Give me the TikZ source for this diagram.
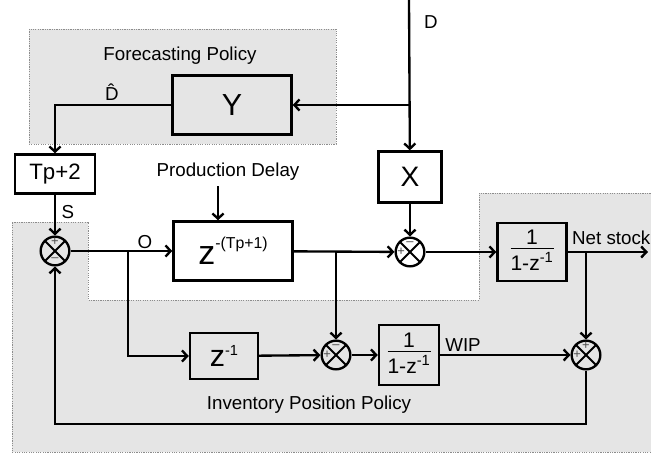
\documentclass[tikz,border=0pt]{standalone}
\usepackage{fontspec}
\setmainfont{Liberation Sans}
\usetikzlibrary{arrows.meta,positioning}

\newcommand{\accfrac}{\begin{tabular}{@{}c@{}}{\fontsize{18}{18}\selectfont 1}\\[0pt]\hline\rule{0pt}{18pt}{\fontsize{18}{18}\selectfont 1-z\textsuperscript{-1}}\end{tabular}}

\begin{document}
\begin{tikzpicture}[x=0.03cm, y=-0.03cm, line width=2pt, >={Straight Barb[length=4.5pt,width=9.5pt]}]
\tikzset{
    block/.style={rectangle, draw=black, line width=2pt, inner sep=0pt, text centered},
    sumnode/.style={circle, draw=black, line width=2pt, minimum size=0.86cm, inner sep=0pt,
        path picture={\draw[line width=1.6pt] (path picture bounding box.north west) -- (path picture bounding box.south east)
            (path picture bounding box.north east) -- (path picture bounding box.south west);}},
    sign/.style={font=\fontsize{11}{11}\selectfont, text=black!70, inner sep=0pt},
    region/.style={fill=black!10, draw=black!45, line width=0.8pt, dash pattern=on 1pt off 1pt},
    lab/.style={font=\fontsize{16}{18}\selectfont, inner sep=0pt},
    flow/.style={->, line width=2pt}
}
\useasboundingbox (0,0) rectangle (651,454);

% shaded policy areas
\path[region] (29,29) rectangle (336,144);
\path[region] (12,222) -- (88,222) -- (88,300) -- (479,300) -- (479,193) -- (660,193) -- (660,452) -- (12,452) -- cycle;

% blocks
\node[block, minimum width=3.57cm, minimum height=1.77cm, font=\fontsize{26}{28}\selectfont] (forecast) at (232,105) {Y};
\node[block, minimum width=1.89cm, minimum height=1.53cm, font=\fontsize{24}{26}\selectfont] (xgain) at (410,177) {X};
\node[block, minimum width=2.4cm, minimum height=1.17cm, font=\fontsize{19}{21}\selectfont] (target) at (55,174) {Tp+2};
\node[block, minimum width=3.57cm, minimum height=1.77cm] (delay) at (233,251)
    {{\fontsize{29}{30}\selectfont z}\raisebox{13.5pt}{\fontsize{13.5}{14}\selectfont -(Tp+1)}};
\node[block, minimum width=2.04cm, minimum height=1.38cm] (unitdelay) at (224,356)
    {{\fontsize{26}{28}\selectfont z}\raisebox{10pt}{\fontsize{12.5}{13}\selectfont -1}};
\node[block, minimum width=2.07cm, minimum height=1.74cm] (stockacc) at (532,252) {\accfrac};
\node[block, minimum width=1.8cm, minimum height=1.8cm] (wipacc) at (409,355) {\accfrac};

% summing junctions
\node[sumnode] (sumorder) at (55,251) {};
\node[sumnode] (sumstock) at (410,252) {};
\node[sumnode] (sumwip) at (336,355) {};
\node[sumnode] (sumip) at (586,355) {};
\node[sign] at ([yshift=7.5pt]sumorder.center) {+};
\node[sign] at ([yshift=-7.5pt]sumorder.center) {–};
\node[sign] at ([yshift=7.5pt]sumstock.center) {–};
\node[sign] at ([xshift=-7.5pt]sumstock.center) {+};
\node[sign] at ([yshift=7.5pt]sumwip.center) {–};
\node[sign] at ([xshift=-7.5pt]sumwip.center) {+};
\node[sign] at ([yshift=7.5pt]sumip.center) {+};
\node[sign] at ([xshift=-7.5pt]sumip.center) {+};

% labels
\node[lab] (fclabel) at (180,56) {Forecasting Policy};
\node[lab] (pdlabel) at (228,172) {Production Delay};
\node[lab] (iplabel) at (309,405) {Inventory Position Policy};
\node[lab] (dlabel) at (431,22) {D};
\node[lab] (dhatlabel) at (112,92) {\^{D}};
\node[lab] (slabel) at (68,212) {S};
\node[lab] (olabel) at (145,242) {O};
\node[lab] (wiplabel) at (463,345) {WIP};
\node[lab, anchor=west] (nslabel) at (571,238) {Net stock};

% free ends and branch points
\coordinate (demand) at (409,0);
\coordinate (dsplit) at (409,105);
\coordinate (osplit) at (128,251);
\coordinate (psplit) at (336,251);
\coordinate (nsplit) at (586,252);
\coordinate (nsout) at (648,252);
\coordinate (pdin) at (218,186);
\coordinate (fbcorner) at (586,424);

% connectors
\draw[flow] (demand) -- (xgain);
\draw[flow] (dsplit) -- (forecast.east);
\draw[flow] (forecast.west) -| (target.north);
\draw[flow] (target) -- (sumorder);
\draw[flow] (sumorder) -- (delay);
\draw[flow] (osplit) |- (unitdelay);
\draw[flow] (pdin) -- (pdin |- delay.north);
\draw[flow] (delay) -- (sumstock);
\draw[flow] (psplit) -- (sumwip);
\draw[flow] (xgain) -- (sumstock);
\draw[flow] (sumstock) -- (stockacc);
\draw[flow] (stockacc) -- (nsout);
\draw[flow] (nsplit) -- (sumip);
\draw[flow] (unitdelay) -- (sumwip);
\draw[flow] (sumwip) -- (wipacc);
\draw[flow] (wipacc) -- (sumip);
\draw[flow] (sumip) -- (fbcorner) -| (sumorder);

\end{tikzpicture}
\end{document}
